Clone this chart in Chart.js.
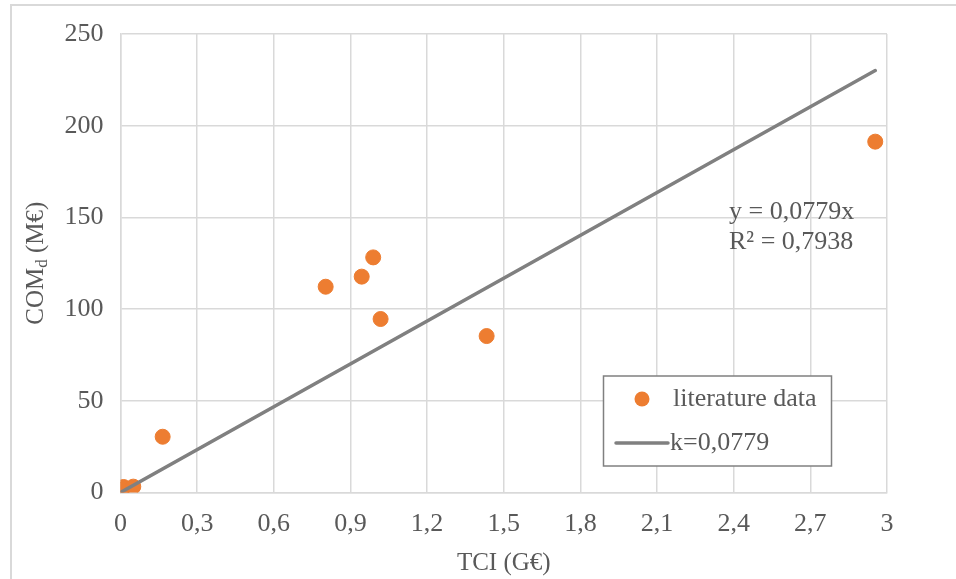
<!DOCTYPE html>
<html>
<head>
<meta charset="utf-8">
<script src="https://cdn.jsdelivr.net/npm/chart.js@4"></script>
<style>
  html, body { margin: 0; padding: 0; background: #fff; }
  #wrap { width: 956px; height: 579px; position: relative; }
</style>
</head>
<body>
<div id="wrap"><canvas id="ScatterChart" width="956" height="579"></canvas></div>
<script>
// literature data (TCI in G€, COM_d in M€)
const tciValues = [0.003, 0.012, 0.05, 0.165, 0.803, 0.944, 0.989, 1.018, 1.433, 2.954];
const comValues = [1.6, 3.0, 3.2, 30.4, 112.2, 117.7, 128.2, 94.6, 85.3, 191.3];

// linear trend through origin, k = 0,0779
const trendX = [0, 2.954];
const trendY = [0, 230.1];

const xTicks = [0, 0.3, 0.6, 0.9, 1.2, 1.5, 1.8, 2.1, 2.4, 2.7, 3];
const yTicks = [0, 50, 100, 150, 200, 250];

const FONT = '"Liberation Serif", "Times New Roman", serif';
const TEXT = '#595959';
const ORANGE = '#ED7D31';
const GREY = '#808080';

const toPoints = (xs, ys) => xs.map((x, i) => ({ x: x, y: ys[i] }));

// frame, axis titles, equation and legend
const extras = {
  id: 'extras',
  beforeDraw(chart) {
    const c = chart.ctx;
    c.save();
    c.fillStyle = '#fff';
    c.fillRect(0, 0, chart.width, chart.height);
    c.strokeStyle = '#d9d9d9';
    c.lineWidth = 2;
    c.beginPath();
    c.moveTo(11, 579);
    c.lineTo(11, 5);
    c.lineTo(956, 5);
    c.stroke();
    c.restore();
  },
  afterDraw(chart) {
    const c = chart.ctx;
    const a = chart.chartArea;
    c.save();
    c.fillStyle = TEXT;
    c.textBaseline = 'middle';

    // x title
    c.font = '25px ' + FONT;
    c.textAlign = 'center';
    c.fillText('TCI (G€)', (a.left + a.right) / 2, 563);

    // y title with subscript
    c.translate(36, (a.top + a.bottom) / 2);
    c.rotate(-Math.PI / 2);
    c.textAlign = 'left';
    const p1 = 'COM', p2 = 'd', p3 = ' (M€)';
    c.font = '25px ' + FONT;
    const w1 = c.measureText(p1).width;
    const w3 = c.measureText(p3).width;
    c.font = '17px ' + FONT;
    const w2 = c.measureText(p2).width;
    let sx = -(w1 + w2 + w3) / 2;
    c.font = '25px ' + FONT;
    c.fillText(p1, sx, 0);
    c.font = '17px ' + FONT;
    c.fillText(p2, sx + w1, 7);
    c.font = '25px ' + FONT;
    c.fillText(p3, sx + w1 + w2, 0);
    c.setTransform(1, 0, 0, 1, 0, 0);

    // trend equation
    c.font = '26px ' + FONT;
    c.textAlign = 'left';
    c.fillText('y = 0,0779x', 729, 212);
    c.fillText('R² = 0,7938', 729, 242);

    // legend
    c.fillStyle = '#fff';
    c.fillRect(603, 376, 228, 90);
    c.strokeStyle = GREY;
    c.lineWidth = 1.5;
    c.strokeRect(603.5, 376, 228, 90);
    c.fillStyle = ORANGE;
    c.beginPath();
    c.arc(642, 399, 7.5, 0, Math.PI * 2);
    c.fill();
    c.strokeStyle = GREY;
    c.lineWidth = 3.5;
    c.lineCap = 'round';
    c.beginPath();
    c.moveTo(616, 443);
    c.lineTo(668, 443);
    c.stroke();
    c.fillStyle = TEXT;
    c.fillText('literature data', 673, 399);
    c.fillText('k=0,0779', 670, 443);
    c.restore();
  }
};

new Chart(document.getElementById('ScatterChart'), {
  type: 'scatter',
  data: {
    datasets: [
      {
        label: 'k=0,0779',
        type: 'line',
        data: toPoints(trendX, trendY),
        borderColor: GREY,
        borderWidth: 3.5,
        borderCapStyle: 'round',
        pointRadius: 0,
        fill: false,
        order: 0
      },
      {
        label: 'literature data',
        data: toPoints(tciValues, comValues),
        backgroundColor: ORANGE,
        borderColor: ORANGE,
        pointRadius: 7.5,
        pointHoverRadius: 7.5,
        order: 1
      }
    ]
  },
  options: {
    responsive: false,
    animation: false,
    devicePixelRatio: 1,
    layout: { padding: { left: 0, top: 34, right: 69, bottom: 0 } },
    plugins: { legend: { display: false }, tooltip: { enabled: false } },
    scales: {
      x: {
        type: 'linear',
        min: 0,
        max: 3,
        afterBuildTicks: (s) => { s.ticks = xTicks.map(v => ({ value: v })); },
        afterFit: (s) => { s.height = 86.5; },
        grid: { color: '#d9d9d9', lineWidth: 1.5, drawTicks: false },
        border: { color: '#d9d9d9', width: 1.5 },
        ticks: {
          color: TEXT,
          font: { family: FONT, size: 26 },
          padding: 16,
          maxRotation: 0,
          autoSkip: false,
          callback: (v) => String(Number(v.toFixed(1))).replace('.', ',')
        }
      },
      y: {
        min: 0,
        max: 250,
        afterBuildTicks: (s) => { s.ticks = yTicks.map(v => ({ value: v })); },
        afterFit: (s) => { s.width = 120.5; },
        grid: { color: '#d9d9d9', lineWidth: 1.5, drawTicks: false },
        border: { color: '#d9d9d9', width: 1.5 },
        ticks: {
          color: TEXT,
          font: { family: FONT, size: 26 },
          padding: 17
        }
      }
    }
  },
  plugins: [extras]
});
</script>
</body>
</html>
